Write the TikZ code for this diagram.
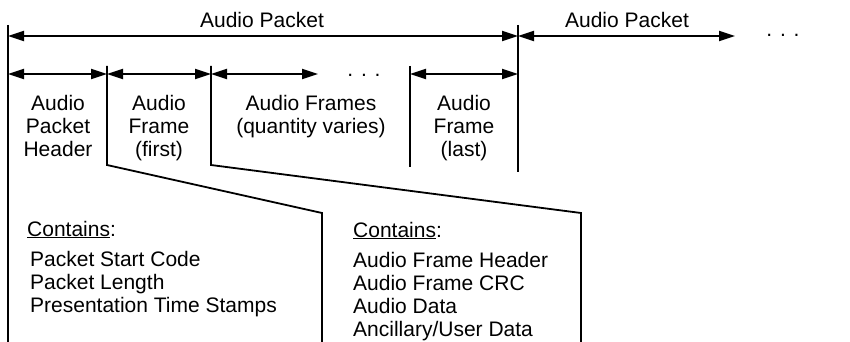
\documentclass[tikz,border=0pt]{standalone}
\usepackage{fontspec}
\setmainfont{Liberation Sans}
\usetikzlibrary{arrows.meta}
\tikzset{
  span/.style={line width=1.8pt,{Triangle[length=16pt,width=10pt]}-{Triangle[length=16pt,width=10pt]}},
  rule/.style={line width=1.8pt},
  lbl/.style={font=\fontsize{21}{23}\selectfont,align=center,inner sep=0pt,anchor=base},
  lst/.style={font=\fontsize{21}{23}\selectfont,align=left,inner sep=0pt,anchor=base west},
}
\begin{document}
\begin{tikzpicture}[x=1pt,y=-1pt]
        \useasboundingbox (0,0) rectangle (850,342);
        % packet boundaries
        \coordinate (pkA) at (8,25);   \coordinate (pkAb) at (8,342);
        \coordinate (pkB) at (518,25); \coordinate (pkBb) at (518,172);
        % frame boundaries
        \coordinate (frA) at (107,66); \coordinate (frAk) at (107,165);
        \coordinate (frAd) at (322,213); \coordinate (frAb) at (322,342);
        \coordinate (frB) at (211,66); \coordinate (frBk) at (211,165);
        \coordinate (frBd) at (581,213); \coordinate (frBb) at (581,342);
        \coordinate (frC) at (410,66); \coordinate (frCb) at (410,167);
        \draw[rule] (pkA)--(pkAb);
        \draw[rule] (pkB)--(pkBb);
        \draw[rule] (frA)--(frAk)--(frAd)--(frAb);
        \draw[rule] (frB)--(frBk)--(frBd)--(frBb);
        \draw[rule] (frC)--(frCb);
        % top row
        \coordinate (pkEnd) at (735,36);
        \draw[span] (pkA|-pkEnd)--(pkB|-pkEnd);
        \draw[span] (pkB|-pkEnd)--(pkEnd);
        \node[lbl] (pktA) at (262,28) {Audio Packet};
        \node[lbl] (pktB) at (627,28) {Audio Packet};
        \node[lbl] (moreA) at (783,37) {. . .};
        % frame row (base = last line)
        \coordinate (frEnd) at (318,74);
        \draw[span] (pkA|-frEnd)--(frA|-frEnd);
        \draw[span] (frA|-frEnd)--(frB|-frEnd);
        \draw[span] (frB|-frEnd)--(frEnd);
        \draw[span] (frC|-frEnd)--(pkB|-frEnd);
        \node[lbl] (moreB) at (364,77) {. . .};
        \node[lbl] (hdr) at (58,156) {Audio\\Packet\\Header};
        \node[lbl] (first) at (159,156) {Audio\\Frame\\(first)};
        \node[lbl] (mid) at (311,133) {Audio Frames\\(quantity varies)};
        \node[lbl] (last) at (464,156) {Audio\\Frame\\(last)};
        % contents
        \node[lst] (hdrC) at (27,236) {\underline{Contains}:};
        \node[lst] (hdrL) at (30,312) {Packet Start Code\\Packet Length\\Presentation Time Stamps};
        \node[lst] (frmC) at (353,237) {\underline{Contains}:};
        \node[lst] (frmL) at (353,336) {Audio Frame Header\\Audio Frame CRC\\Audio Data\\Ancillary/User Data};
\end{tikzpicture}
\end{document}
